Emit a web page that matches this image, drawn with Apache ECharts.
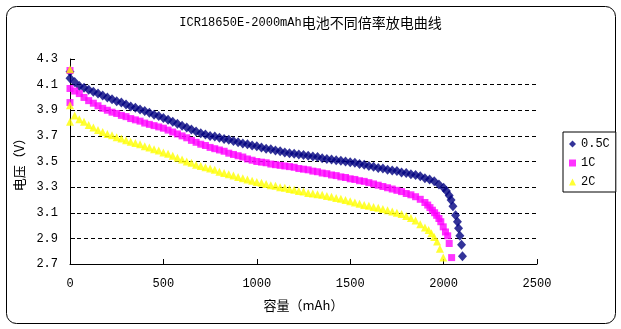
<!DOCTYPE html>
<html>
<head>
<meta charset="utf-8">
<script src="https://cdn.jsdelivr.net/npm/echarts@6/dist/echarts.min.js"></script>
<style>
html,body{margin:0;padding:0;background:#fff;}
#c{width:621px;height:329px;}
</style>
</head>
<body>
<div id="c"></div>
<script>
// ---- data (capacity mAh, voltage V) ----
const seriesNames = ['0.5C', '1C', '2C'];
const yTicks = [2.7, 2.9, 3.1, 3.3, 3.5, 3.7, 3.9, 4.1, 4.3];
const xTicks = [0, 500, 1000, 1500, 2000, 2500];

const d05 = [[0,4.20],[0,4.15],[25,4.12],[50,4.09],[75,4.075],[100,4.06],[125,4.045],[150,4.03],[175,4.015],[200,4.00],
[225,3.985],[250,3.97],[275,3.96],[300,3.945],[325,3.93],[350,3.92],[375,3.905],[400,3.895],[425,3.88],[450,3.865],
[475,3.855],[500,3.84],[525,3.825],[550,3.81],[575,3.795],[600,3.78],[625,3.765],[650,3.75],[675,3.735],[700,3.72],
[725,3.71],[750,3.70],[775,3.695],[800,3.685],[825,3.675],[850,3.67],[875,3.66],[900,3.65],[925,3.64],[950,3.635],
[975,3.625],[1000,3.62],[1025,3.61],[1050,3.60],[1075,3.595],[1100,3.585],[1125,3.58],[1150,3.57],[1175,3.565],[1200,3.56],
[1225,3.555],[1250,3.55],[1275,3.545],[1300,3.54],[1325,3.535],[1350,3.525],[1375,3.52],[1400,3.515],[1425,3.51],[1450,3.505],
[1475,3.50],[1500,3.495],[1525,3.49],[1550,3.48],[1575,3.475],[1600,3.465],[1625,3.46],[1650,3.45],[1675,3.445],[1700,3.435],
[1725,3.43],[1750,3.425],[1775,3.415],[1800,3.41],[1825,3.40],[1850,3.395],[1875,3.385],[1900,3.37],[1925,3.36],[1950,3.345],
[1975,3.32],[2000,3.295],[2015,3.27],[2030,3.235],[2040,3.20],[2050,3.15],[2064,3.08],[2074,3.03],[2080,2.98],[2087,2.92],
[2096,2.85],[2101,2.76]];

const d1 = [[0,4.21],[0,3.96],[0,4.07],[25,4.05],[50,4.03],[75,4.00],[100,3.975],[125,3.955],[150,3.935],[175,3.915],
[200,3.90],[225,3.885],[250,3.875],[275,3.86],[300,3.85],[325,3.835],[350,3.825],[375,3.815],[400,3.80],[425,3.79],
[450,3.78],[475,3.77],[500,3.76],[525,3.745],[550,3.73],[575,3.715],[600,3.70],[625,3.685],[650,3.665],[675,3.65],
[700,3.635],[725,3.625],[750,3.61],[775,3.60],[800,3.59],[825,3.58],[850,3.565],[875,3.555],[900,3.545],[925,3.535],
[950,3.52],[975,3.51],[1000,3.50],[1025,3.495],[1050,3.49],[1075,3.48],[1100,3.475],[1125,3.47],[1150,3.465],[1175,3.46],
[1200,3.455],[1225,3.445],[1250,3.44],[1275,3.435],[1300,3.425],[1325,3.42],[1350,3.41],[1375,3.405],[1400,3.395],[1425,3.39],
[1450,3.38],[1475,3.375],[1500,3.365],[1525,3.36],[1550,3.35],[1575,3.345],[1600,3.335],[1625,3.325],[1650,3.315],[1675,3.305],
[1700,3.295],[1725,3.285],[1750,3.275],[1775,3.265],[1800,3.25],[1825,3.24],[1850,3.225],[1875,3.205],[1900,3.18],[1915,3.16],
[1927,3.14],[1940,3.12],[1952,3.10],[1963,3.08],[1975,3.055],[1985,3.03],[1998,2.99],[2010,2.95],[2022,2.92],[2030,2.86],
[2043,2.75]];

const d2 = [[0,4.22],[0,3.94],[0,3.81],[25,3.86],[50,3.83],[75,3.81],[100,3.785],[125,3.765],[150,3.745],[175,3.73],
[200,3.715],[225,3.705],[250,3.69],[275,3.68],[300,3.665],[325,3.655],[350,3.645],[375,3.635],[400,3.62],[425,3.61],
[450,3.595],[475,3.585],[500,3.57],[525,3.56],[550,3.545],[575,3.53],[600,3.515],[625,3.50],[650,3.49],[675,3.475],
[700,3.465],[725,3.455],[750,3.445],[775,3.435],[800,3.42],[825,3.41],[850,3.40],[875,3.39],[900,3.38],[925,3.37],
[950,3.36],[975,3.35],[1000,3.34],[1025,3.335],[1050,3.325],[1075,3.315],[1100,3.31],[1125,3.30],[1150,3.295],[1175,3.285],
[1200,3.28],[1225,3.27],[1250,3.265],[1275,3.255],[1300,3.25],[1325,3.245],[1350,3.24],[1375,3.23],[1400,3.225],[1425,3.215],
[1450,3.21],[1475,3.20],[1500,3.19],[1525,3.18],[1550,3.17],[1575,3.16],[1600,3.155],[1625,3.145],[1650,3.14],[1675,3.13],
[1700,3.12],[1725,3.11],[1750,3.10],[1775,3.09],[1800,3.075],[1825,3.06],[1850,3.04],[1875,3.01],[1900,2.985],[1920,2.965],
[1935,2.94],[1950,2.91],[1965,2.875],[1980,2.82],[1998,2.75]];

const chart = echarts.init(document.getElementById('c'), null, {renderer: 'canvas'});
const mono = "'Liberation Mono', 'DejaVu Sans Mono', monospace";
const cjk = "'Noto Sans CJK SC', sans-serif";

chart.setOption({
  animation: false,
  backgroundColor: '#fff',
  graphic: [{
    type: 'rect', silent: true, z: -1,
    shape: {x: 6.5, y: 6.5, width: 609, height: 317, r: 10},
    style: {fill: '#fff', stroke: '#000', lineWidth: 1}
  }],
  title: {
    text: '{a|ICR18650E-2000mAh}{b|电池不同倍率放电曲线}',
    left: 'center', top: 11,
    textStyle: {
      fontWeight: 'normal',
      rich: {
        a: {fontFamily: mono, fontSize: 12, color: '#000', fontWeight: 'normal'},
        b: {fontFamily: cjk, fontSize: 14, color: '#000', fontWeight: 'normal'}
      }
    }
  },
  legend: {
    orient: 'vertical',
    left: 563, top: 132,
    padding: [5, 6, 3, 6],
    itemGap: 5,
    itemWidth: 7, itemHeight: 7,
    borderColor: '#000', borderWidth: 1,
    backgroundColor: '#fff',
    textStyle: {fontFamily: mono, fontSize: 12, color: '#000', lineHeight: 14},
    data: seriesNames
  },
  grid: {left: 70, top: 59, width: 467, height: 205},
  xAxis: {
    type: 'value', min: 0, max: 2500, interval: 500,
    name: '容量（mAh）', nameLocation: 'middle', nameGap: 35,
    nameTextStyle: {fontFamily: cjk, fontSize: 13, color: '#000'},
    axisLine: {show: true, lineStyle: {color: '#000', width: 1}},
    axisTick: {show: true, inside: true, length: 5, lineStyle: {color: '#000'}},
    axisLabel: {fontFamily: mono, fontSize: 12, color: '#000', margin: 14,
      formatter: v => String(v)},
    splitLine: {show: false}
  },
  yAxis: {
    type: 'value', min: 2.7, max: 4.3, interval: 0.2,
    name: '电压（V）', nameLocation: 'middle', nameGap: 31, nameRotate: 90,
    nameTextStyle: {fontFamily: cjk, fontSize: 13, color: '#000'},
    axisLine: {show: true, lineStyle: {color: '#000', width: 1}},
    axisTick: {show: true, inside: true, length: 5, lineStyle: {color: '#000'}},
    axisLabel: {fontFamily: mono, fontSize: 12, color: '#000', margin: 12,
      formatter: v => v.toFixed(1)},
    splitLine: {show: true, showMinLine: false, showMaxLine: false,
      lineStyle: {color: '#000', type: [4, 3], width: 1}}
  },
  series: [
    {name: seriesNames[0], type: 'scatter', data: d05, symbol: 'diamond', symbolSize: [9, 10],
      itemStyle: {color: '#000080'}},
    {name: seriesNames[1], type: 'scatter', data: d1, symbol: 'rect', symbolSize: 7,
      itemStyle: {color: '#FF00FF'}},
    {name: seriesNames[2], type: 'scatter', data: d2, symbol: 'triangle', symbolSize: 8,
      itemStyle: {color: '#FFFF00'}}
  ]
});
</script>
</body>
</html>
